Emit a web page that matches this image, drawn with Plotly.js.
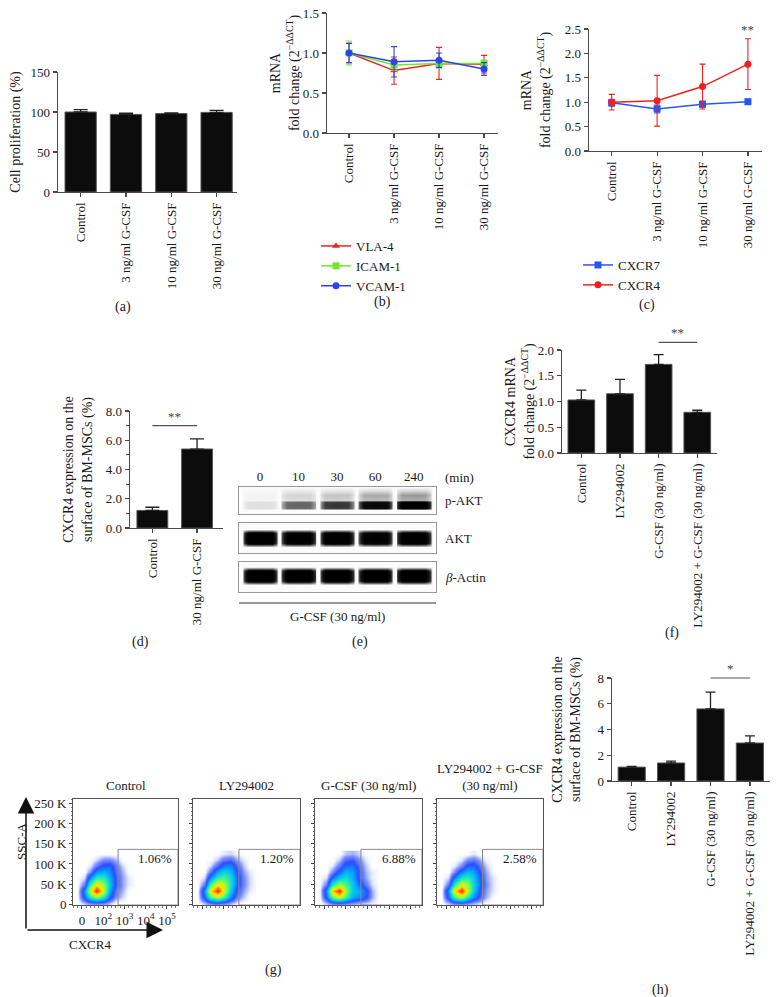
<!DOCTYPE html>
<html><head><meta charset="utf-8">
<script src="https://cdn.plot.ly/plotly-3.0.1.min.js"></script>
<style>html,body{margin:0;padding:0;background:#fff}#chart{width:780px;height:997px}</style>
</head><body><div id="chart"></div>
<script>
// ---------------- DATA ----------------
// (a) cell proliferation
const doseCats = ['Control', '3 ng/ml G-CSF', '10 ng/ml G-CSF', '30 ng/ml G-CSF'];
const prolif = [100, 97, 98, 99.5];
const prolifErr = [3, 1.5, 1, 2.5];
// (b) adhesion molecules mRNA
const vla4 = [1.00, 0.78, 0.87, 0.86];
const vla4Err = [0.12, 0.17, 0.20, 0.11];
const icam1 = [1.00, 0.85, 0.87, 0.87];
const icam1Err = [0.15, 0.07, 0.06, 0.04];
const vcam1 = [1.00, 0.89, 0.91, 0.80];
const vcam1Err = [0.12, 0.19, 0.09, 0.08];
// (c) chemokine receptors mRNA
const cxcr7 = [0.99, 0.86, 0.96, 1.01];
const cxcr7Err = [0.07, 0.08, 0.06, 0.05];
const cxcr4 = [1.00, 1.03, 1.32, 1.78];
const cxcr4Err = [0.16, 0.52, 0.46, 0.52];
// (d) surface CXCR4
const surfCats = ['Control', '30 ng/ml G-CSF'];
const surfD = [1.2, 5.4];
const surfDErr = [0.22, 0.7];
// (e) western blot band intensities (0..1)
const blotLanes = ['0', '10', '30', '60', '240'];
const pAKT = [0.1, 0.45, 0.6, 0.85, 1.0];
const AKT = [1.0, 0.95, 0.97, 0.93, 0.97];
const bActin = [1.0, 1.0, 1.0, 1.0, 1.0];
// (f) CXCR4 mRNA with inhibitor
const inhibCats = ['Control', 'LY294002', 'G-CSF (30 ng/ml)', 'LY294002 + G-CSF (30 ng/ml)'];
const mrnaF = [1.03, 1.15, 1.72, 0.79];
const mrnaFErr = [0.19, 0.28, 0.19, 0.04];
// (g) flow cytometry density (rows = SSC-A in K, cols = CXCR4 log position)
const flowTitles = ['Control', 'LY294002', 'G-CSF (30 ng/ml)', 'LY294002 + G-CSF<br>(30 ng/ml)'];
const flowGate = ['1.06%', '1.20%', '6.88%', '2.58%'];
const flowCols = [-0.2, 0.1, 0.4, 0.7, 1.0, 1.3, 1.6, 1.9, 2.2, 2.5];
const flowRows = [5, 20, 35, 50, 65, 80, 95, 110, 125];
const densControl = [
  [0, 0.05, 0.10, 0.12, 0.10, 0.05, 0, 0, 0, 0],
  [0, 0.20, 0.45, 0.60, 0.45, 0.20, 0.08, 0.03, 0, 0],
  [0, 0.25, 0.70, 1.00, 0.65, 0.30, 0.10, 0.05, 0, 0],
  [0, 0.10, 0.50, 0.75, 0.60, 0.35, 0.15, 0.06, 0.02, 0],
  [0, 0.03, 0.25, 0.45, 0.45, 0.30, 0.15, 0.06, 0.02, 0],
  [0, 0, 0.08, 0.25, 0.30, 0.25, 0.12, 0.05, 0, 0],
  [0, 0, 0.02, 0.10, 0.18, 0.20, 0.10, 0.03, 0, 0],
  [0, 0, 0, 0.03, 0.08, 0.08, 0.05, 0, 0, 0],
  [0, 0, 0, 0, 0, 0, 0, 0, 0, 0]
];
const densLY = [
  [0, 0.05, 0.12, 0.15, 0.12, 0.06, 0.02, 0, 0, 0],
  [0, 0.20, 0.50, 0.65, 0.50, 0.25, 0.10, 0.04, 0, 0],
  [0, 0.25, 0.75, 1.00, 0.70, 0.35, 0.15, 0.06, 0.02, 0],
  [0, 0.10, 0.50, 0.75, 0.65, 0.40, 0.20, 0.08, 0.03, 0],
  [0, 0.03, 0.25, 0.45, 0.50, 0.40, 0.20, 0.08, 0.03, 0],
  [0, 0, 0.10, 0.28, 0.38, 0.32, 0.18, 0.06, 0.02, 0],
  [0, 0, 0.03, 0.12, 0.22, 0.25, 0.12, 0.04, 0, 0],
  [0, 0, 0, 0.04, 0.10, 0.12, 0.06, 0.02, 0, 0],
  [0, 0, 0, 0, 0.02, 0.03, 0.01, 0, 0, 0]
];
const densG = [
  [0, 0.05, 0.12, 0.15, 0.12, 0.08, 0.06, 0.04, 0.02, 0],
  [0, 0.20, 0.55, 0.70, 0.50, 0.30, 0.25, 0.18, 0.06, 0],
  [0, 0.25, 0.80, 1.00, 0.60, 0.35, 0.30, 0.20, 0.06, 0],
  [0, 0.10, 0.45, 0.60, 0.50, 0.35, 0.22, 0.10, 0.03, 0],
  [0, 0.03, 0.20, 0.35, 0.40, 0.30, 0.15, 0.06, 0.02, 0],
  [0, 0, 0.08, 0.20, 0.30, 0.28, 0.15, 0.05, 0.02, 0],
  [0, 0, 0.02, 0.10, 0.20, 0.22, 0.12, 0.04, 0, 0],
  [0, 0, 0, 0.04, 0.12, 0.14, 0.08, 0.02, 0, 0],
  [0, 0, 0, 0, 0.04, 0.05, 0.03, 0, 0, 0]
];
const densLYG = [
  [0, 0.05, 0.12, 0.14, 0.10, 0.06, 0.03, 0, 0, 0],
  [0, 0.20, 0.50, 0.65, 0.45, 0.25, 0.12, 0.05, 0, 0],
  [0, 0.25, 0.75, 1.00, 0.65, 0.35, 0.15, 0.06, 0.02, 0],
  [0, 0.10, 0.45, 0.70, 0.60, 0.38, 0.18, 0.07, 0.02, 0],
  [0, 0.03, 0.22, 0.42, 0.45, 0.35, 0.18, 0.06, 0.02, 0],
  [0, 0, 0.08, 0.22, 0.32, 0.28, 0.14, 0.05, 0, 0],
  [0, 0, 0.02, 0.08, 0.18, 0.20, 0.10, 0.03, 0, 0],
  [0, 0, 0, 0.02, 0.08, 0.10, 0.05, 0.01, 0, 0],
  [0, 0, 0, 0, 0, 0.02, 0, 0, 0, 0]
];
// (h) surface CXCR4 with inhibitor
const surfH = [1.08, 1.4, 5.6, 2.95];
const surfHErr = [0.05, 0.15, 1.3, 0.55];

// ---------------- STYLE / HELPERS ----------------
const W = 780, H = 997;
const FONT = 'Liberation Serif, serif';
const INK = '#1a1a1a';
const AXC = '#4a4a4a';
const px = (a, b) => [a / W, b / W];
const py = (top, bottom) => [1 - bottom / H, 1 - top / H];
const zeros = a => a.map(() => 0);

function ax(extra) {
  return Object.assign({
    showline: true, linecolor: AXC, linewidth: 1.3,
    ticks: 'outside', ticklen: 4, tickwidth: 1.2, tickcolor: AXC,
    showgrid: false, zeroline: false, automargin: false, fixedrange: true,
    tickfont: { family: FONT, size: 13, color: INK }
  }, extra);
}
function ytitle(text, standoff) {
  return { text: text, standoff: standoff, font: { family: FONT, size: 14, color: INK } };
}
function barTrace(x, y, err, xa, ya, capw) {
  return {
    type: 'bar', x: x, y: y, xaxis: xa, yaxis: ya, width: 0.69, showlegend: false,
    marker: { color: '#0c0c0c', line: { color: '#555', width: 1 } },
    error_y: { type: 'data', symmetric: false, array: err, arrayminus: zeros(err),
      color: '#222', thickness: 1.3, width: capw },
    hoverinfo: 'skip'
  };
}
function lineTrace(name, x, y, err, color, symbol, xa, ya, legend) {
  return {
    type: 'scatter', mode: 'lines+markers', name: name, x: x, y: y, xaxis: xa, yaxis: ya,
    legend: legend,
    line: { color: color, width: 1.5 },
    marker: { color: color, symbol: symbol, size: 7 },
    error_y: { type: 'data', array: err, color: color, thickness: 1.1, width: 3 },
    hoverinfo: 'skip'
  };
}
// builds the heatmap table the library needs for one blot strip
function blotTable(vals, center, half, smear) {
  const colOff = [-0.47, -0.42, -0.3, 0, 0.3, 0.42, 0.47];
  const colMul = [0, 0.6, 0.97, 1, 0.97, 0.6, 0];
  const rowPos = [0, center - half, center - 0.55 * half, center, center + 0.55 * half, center + half, center + 1.9 * half, 1];
  const rowMul = [0, 0, 0.95, 1, 0.95, Math.max(smear, 0) * 0.8, smear, 0];
  const xs = [];
  vals.forEach((v, i) => colOff.forEach(o => xs.push(i + o)));
  const z = rowPos.map((r, ri) => xs.map((xv, ci) =>
    vals[Math.floor(ci / colOff.length)] * colMul[ci % colOff.length] * rowMul[ri]));
  return { x: xs, y: rowPos, z: z };
}
const blotScale = [[0, '#fbfbfb'], [0.12, '#dcdcdc'], [0.45, '#6e6e6e'], [0.75, '#161616'], [1, '#000000']];
const jetScale = [[0, '#ffffff'], [0.02, '#e6ebff'], [0.07, '#7d92ff'], [0.16, '#2a4cff'], [0.3, '#00b4ff'],
  [0.45, '#25f0b0'], [0.6, '#9cff30'], [0.75, '#ffe600'], [0.88, '#ff7a00'], [1, '#ff1a00']];

// ---------------- TRACES ----------------
const traces = [];
// (a)
traces.push(barTrace(doseCats, prolif, prolifErr, 'x', 'y', 7));
// (b)
traces.push(lineTrace('VLA-4', doseCats, vla4, vla4Err, '#f02020', 'triangle-up', 'x2', 'y2', 'legend'));
traces.push(lineTrace('ICAM-1', doseCats, icam1, icam1Err, '#6fe82a', 'square', 'x2', 'y2', 'legend'));
traces.push(lineTrace('VCAM-1', doseCats, vcam1, vcam1Err, '#2a45f0', 'circle', 'x2', 'y2', 'legend'));
// (c)
traces.push(lineTrace('CXCR7', doseCats, cxcr7, cxcr7Err, '#2a55f5', 'square', 'x3', 'y3', 'legend2'));
traces.push(lineTrace('CXCR4', doseCats, cxcr4, cxcr4Err, '#f02020', 'circle', 'x3', 'y3', 'legend2'));
// (d)
traces.push(barTrace(surfCats, surfD, surfDErr, 'x4', 'y4', 7));
// (e)
[[pAKT, 0.33, 0.2, 0.3, 'x5', 'y5'], [AKT, 0.5, 0.3, 0, 'x6', 'y6'], [bActin, 0.55, 0.3, 0, 'x7', 'y7']]
  .forEach(b => {
    const t = blotTable(b[0], b[1], b[2], b[3]);
    traces.push({ type: 'heatmap', x: t.x, y: t.y, z: t.z, zmin: 0, zmax: 0.92, zsmooth: 'best',
      colorscale: blotScale, showscale: false, xaxis: b[4], yaxis: b[5], hoverinfo: 'skip' });
  });
// (f)
traces.push(barTrace(inhibCats, mrnaF, mrnaFErr, 'x8', 'y8', 5));
// (g)
[densControl, densLY, densG, densLYG].forEach((d, i) => {
  traces.push({ type: 'heatmap', x: flowCols, y: flowRows, z: d, zmin: 0, zmax: 1, zsmooth: 'best',
    colorscale: jetScale, showscale: false, xaxis: 'x' + (9 + i), yaxis: 'y' + (9 + i), hoverinfo: 'skip' });
});
// (h)
traces.push(barTrace(inhibCats, surfH, surfHErr, 'x13', 'y13', 5));

// ---------------- LAYOUT ----------------
const mrnaTitle = 'mRNA<br>fold change (2<sup>−ΔΔCT</sup>)';
const surfTitle = 'CXCR4 expression on the<br>surface of BM-MSCs (%)';
const layout = {
  width: W, height: H, margin: { l: 0, r: 0, t: 0, b: 0 },
  paper_bgcolor: '#fff', plot_bgcolor: 'rgba(0,0,0,0)',
  font: { family: FONT, size: 13, color: INK },
  showlegend: true,
  legend: { x: 316 / W, y: 1 - 231 / H, xanchor: 'left', yanchor: 'top', bgcolor: 'rgba(0,0,0,0)',
    font: { family: FONT, size: 13, color: INK }, tracegroupgap: 0, itemwidth: 30 },
  legend2: { x: 578 / W, y: 1 - 250 / H, xanchor: 'left', yanchor: 'top', bgcolor: 'rgba(0,0,0,0)',
    font: { family: FONT, size: 13, color: INK }, tracegroupgap: 0, itemwidth: 30 },
  // (a)
  xaxis: ax({ domain: px(58, 237), anchor: 'y', type: 'category', range: [-0.5, 3.45], tickangle: -90 }),
  yaxis: ax({ domain: py(72, 192), anchor: 'x', range: [0, 150], tickvals: [0, 50, 100, 150],
    title: ytitle('Cell proliferation (%)', 6) }),
  // (b)
  xaxis2: ax({ domain: px(327, 498), anchor: 'y2', type: 'category', range: [-0.49, 3.31], tickangle: -90 }),
  yaxis2: ax({ domain: py(13, 133), anchor: 'x2', range: [0, 1.5], tickvals: [0, 0.5, 1, 1.5], tickformat: '.1f',
    title: ytitle(mrnaTitle, 0) }),
  // (c)
  xaxis3: ax({ domain: px(589, 762), anchor: 'y3', type: 'category', range: [-0.5, 3.31], tickangle: -90 }),
  yaxis3: ax({ domain: py(29, 151), anchor: 'x3', range: [0, 2.5], tickvals: [0, 0.5, 1, 1.5, 2, 2.5], tickformat: '.1f',
    title: ytitle(mrnaTitle, 11) }),
  // (d)
  xaxis4: ax({ domain: px(130, 223), anchor: 'y4', type: 'category', range: [-0.5, 1.58], tickangle: -90 }),
  yaxis4: ax({ domain: py(411, 528), anchor: 'x4', range: [0, 8], tickvals: [0, 2, 4, 6, 8], tickformat: '.1f',
    minor: { ticks: 'outside', ticklen: 2.5, tickcolor: AXC, dtick: 1 },
    title: ytitle(surfTitle, 10) }),
  // (e) blots
  xaxis5: ax({ domain: px(239, 436), anchor: 'y5', range: [-0.55, 4.58], mirror: true, linecolor: '#999', linewidth: 1,
    side: 'top', ticks: '', tickvals: [0, 1, 2, 3, 4], ticktext: blotLanes }),
  yaxis5: ax({ domain: py(487, 514), anchor: 'x5', range: [0, 1], mirror: true, linecolor: '#999', linewidth: 1,
    ticks: '', showticklabels: false }),
  xaxis6: ax({ domain: px(239, 436), anchor: 'y6', range: [-0.55, 4.58], mirror: true, linecolor: '#999', linewidth: 1,
    ticks: '', showticklabels: false }),
  yaxis6: ax({ domain: py(523, 553), anchor: 'x6', range: [0, 1], mirror: true, linecolor: '#999', linewidth: 1,
    ticks: '', showticklabels: false }),
  xaxis7: ax({ domain: px(239, 436), anchor: 'y7', range: [-0.55, 4.58], mirror: true, linecolor: '#999', linewidth: 1,
    ticks: '', showticklabels: false }),
  yaxis7: ax({ domain: py(562, 592), anchor: 'x7', range: [0, 1], mirror: true, linecolor: '#999', linewidth: 1,
    ticks: '', showticklabels: false }),
  // (f)
  xaxis8: ax({ domain: px(562, 717), anchor: 'y8', type: 'category', range: [-0.5, 3.51], tickangle: -90 }),
  yaxis8: ax({ domain: py(350, 453), anchor: 'x8', range: [0, 2], tickvals: [0, 0.5, 1, 1.5, 2], tickformat: '.1f',
    title: ytitle('CXCR4 mRNA<br>fold change (2<sup>−ΔΔCT</sup>)', 0) }),
  // (h)
  xaxis13: ax({ domain: px(612, 770), anchor: 'y13', type: 'category', range: [-0.5, 3.51], tickangle: -90 }),
  yaxis13: ax({ domain: py(678, 781), anchor: 'x13', range: [0, 8], tickvals: [0, 2, 4, 6, 8],
    title: ytitle(surfTitle, 13) }),
  shapes: [], annotations: []
};

// (g) flow subplots
const flowX = [[73, 178], [193, 300], [315, 422], [437, 543]];
flowX.forEach((d, i) => {
  const n = 9 + i;
  layout['xaxis' + n] = ax({ domain: px(d[0], d[1]), anchor: 'y' + n, range: [-0.42, 4.52], mirror: true,
    linecolor: '#555', linewidth: 1, ticklen: 3, tickwidth: 1,
    tickvals: [0, 1, 2, 3, 4], ticktext: ['0', '10<sup>2</sup>', '10<sup>3</sup>', '10<sup>4</sup>', '10<sup>5</sup>'],
    showticklabels: i === 0,
    minor: { ticks: 'outside', ticklen: 1.5, tickcolor: '#777', dtick: 0.2 } });
  layout['yaxis' + n] = ax({ domain: py(799, 905), anchor: 'x' + n, range: [-1, 260], mirror: true,
    linecolor: '#555', linewidth: 1, ticklen: 3, tickwidth: 1,
    tickvals: [0, 50, 100, 150, 200, 250], ticktext: ['0', '50 K', '100 K', '150 K', '200 K', '250 K'],
    showticklabels: i === 0,
    minor: { ticks: 'outside', ticklen: 1.5, tickcolor: '#777', dtick: 10 } });
  // gate
  layout.shapes.push({ type: 'rect', xref: 'x' + n, yref: 'y' + n, x0: 1.7, x1: 4.52, y0: -1, y1: 136,
    line: { color: '#8a8a8a', width: 1 } });
  layout.annotations.push({ xref: 'x' + n, yref: 'y' + n, x: 4.35, y: 114, text: flowGate[i], showarrow: false,
    xanchor: 'right', yanchor: 'middle', font: { family: FONT, size: 13, color: INK } });
  layout.annotations.push({ xref: 'x' + n + ' domain', yref: 'y' + n + ' domain', x: 0.5, y: 1, yshift: 4,
    text: flowTitles[i], showarrow: false, xanchor: 'center', yanchor: 'bottom',
    font: { family: FONT, size: 13, color: INK } });
});

// significance markers (positions derived from axis values)
function sig(xa, ya, x0, x1, yv, ymax, label) {
  layout.shapes.push({ type: 'line', xref: xa, yref: ya + ' domain', x0: x0, x1: x1,
    y0: yv / ymax, y1: yv / ymax, line: { color: '#555', width: 1.2 } });
  layout.annotations.push({ xref: xa, yref: ya + ' domain', x: (x0 + x1) / 2, y: yv / ymax,
    text: label, showarrow: false, yanchor: 'bottom', font: { family: FONT, size: 13, color: '#444444' } });
}
sig('x4', 'y4', 0, 1, 7.0, 8, '**');
sig('x8', 'y8', 2, 3, 2.15, 2, '**');
sig('x13', 'y13', 2, 3, 8.0, 8, '*');
layout.annotations.push({ xref: 'x3', yref: 'y3', x: 3, y: 2.3, text: '**', showarrow: false, yanchor: 'bottom',
  font: { family: FONT, size: 13, color: '#444444' } });

// blot labels
const lab = (x, y, t, anchor, size) => layout.annotations.push({ xref: 'paper', yref: 'paper', x: x / W, y: 1 - y / H,
  text: t, showarrow: false, xanchor: anchor || 'center', yanchor: 'middle',
  font: { family: FONT, size: size || 13, color: INK } });
lab(443, 477, '(min)', 'left');
lab(443, 500, 'p-AKT', 'left');
lab(443, 538, 'AKT', 'left');
lab(443, 577, '<i>β</i>-Actin', 'left');
layout.shapes.push({ type: 'line', xref: 'paper', yref: 'paper', x0: 239 / W, x1: 436 / W, y0: 1 - 603 / H, y1: 1 - 603 / H,
  line: { color: '#333', width: 1 } });
lab(337, 616, 'G-CSF (30 ng/ml)');

// panel letters
lab(123, 307, '(a)', 'center', 14);
lab(382, 302, '(b)', 'center', 14);
lab(647, 305, '(c)', 'center', 14);
lab(140, 642, '(d)', 'center', 14);
lab(360, 642, '(e)', 'center', 14);
lab(672, 633, '(f)', 'center', 14);
lab(273, 970, '(g)', 'center', 14);
lab(660, 990, '(h)', 'center', 14);

// flow axis arrows and labels
layout.annotations.push({ xref: 'paper', yref: 'paper', x: 26 / W, y: 1 - 797 / H, ax: 0, ay: 133, text: '',
  showarrow: true, arrowhead: 2, arrowsize: 2.2, arrowwidth: 1.5, arrowcolor: '#111' });
layout.annotations.push({ xref: 'paper', yref: 'paper', x: 163 / W, y: 1 - 930 / H, ax: -137, ay: 0, text: '',
  showarrow: true, arrowhead: 2, arrowsize: 2.2, arrowwidth: 1.5, arrowcolor: '#111' });
layout.annotations.push({ xref: 'paper', yref: 'paper', x: 12 / W, y: 1 - 862 / H, text: 'SSC-A', textangle: -90,
  showarrow: false, font: { family: FONT, size: 13, color: INK } });
lab(90, 944, 'CXCR4');

Plotly.newPlot('chart', traces, layout, { staticPlot: true, displayModeBar: false });
</script></body></html>
